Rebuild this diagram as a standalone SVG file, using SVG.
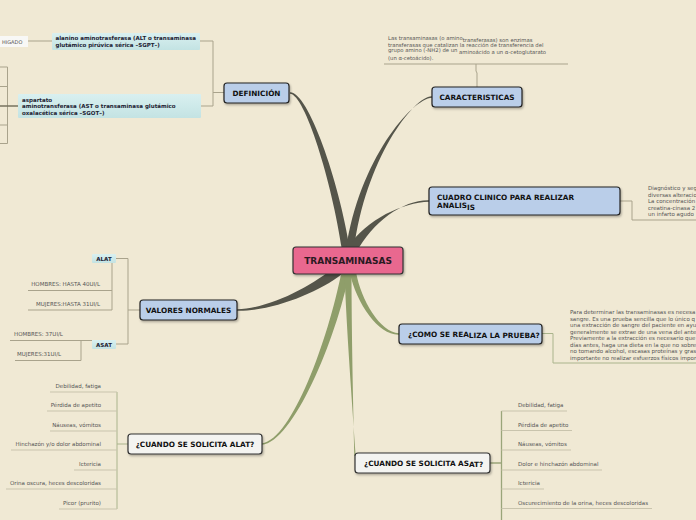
<svg xmlns="http://www.w3.org/2000/svg" width="696" height="520" viewBox="0 0 696 520">
<defs>
<filter id="sh" x="-10%" y="-20%" width="130%" height="160%"><feDropShadow dx="1" dy="1.5" stdDeviation="0.8" flood-color="#000" flood-opacity="0.3"/></filter>
<linearGradient id="teal" x1="0" y1="0" x2="0" y2="1"><stop offset="0" stop-color="#d9f0f0"/><stop offset="1" stop-color="#c3e3e3"/></linearGradient>
</defs>
<style>
.bg{fill:#f0e9d4}
.main{fill:#e9678f;stroke:#333;stroke-width:1.2}
.blue{fill:#bacee9;stroke:#222;stroke-width:1.2}
.white{fill:#f4f4f1;stroke:#333;stroke-width:1.2}
.teal{fill:url(#teal)}
.nt{font-family:"DejaVu Sans",Verdana,sans-serif;font-weight:bold;fill:#111;font-size:7.3px}
.st{font-family:"DejaVu Sans",Verdana,sans-serif;font-weight:bold;fill:#223;font-size:5.5px}
.sm{font-family:"DejaVu Sans",Verdana,sans-serif;fill:#555;font-size:5.5px}
.dk{fill:#55554a}
.ol{fill:#8f9e6a}
.ln{fill:none;stroke:#a9a38c;stroke-width:1}
.lo{fill:none;stroke:#aab48c;stroke-width:1}
.lu{fill:none;stroke:#c9c4ad;stroke-width:1}
</style>
<rect class="bg" x="0" y="0" width="696" height="520"/>
<g id="connectors">
<path class="dk" d="M290,92.2 C308,91.5 339,180 350,250 L342,250 C332,182 305,94.5 290,93.8 Z"/>
<path class="dk" d="M432,96.2 C414,95.5 365,160 354,250 L346,250 C359,160 412,98.5 432,97.8 Z"/>
<path class="dk" d="M429,200.2 C404,199.5 373,221 356,253 L348,247 C367,219 403,202.5 429,201.8 Z"/>
<path class="dk" d="M237,309.2 C270,308.5 312,286 336,266 L342,274 C318,293 271,311.5 237,310.8 Z"/>
<path class="ol" d="M399,333.3 C380,332.5 361,300 356,272 L349.5,272 C357,305 379,335.5 399,334.7 Z"/>
<path class="ol" d="M262,443.3 C292,439.5 328,340 341.5,272 L349.5,272 C336,340 293,442.5 262,444.7 Z"/>
<path class="ol" d="M354.3,456 C353,400 351.5,330 351.5,272 L344.5,272 C346.5,330 352,400 355.7,456 Z"/>
<path class="ln" d="M224,92.5 H213 M200,41 H213 V106 H201 M28,41 H52"/>
<path class="ln" d="M0,67 H7.5 M0,86.5 H7.5 M0,125 H7.5 M0,143.5 H7.5 M7.5,67 V143.5"/>
<path fill="none" stroke="#77725f" stroke-width="1.5" d="M0,106 H18"/>
<path class="ln" d="M477,87 V73 L476,71 V64 M384,64 H568"/>
<path class="ln" d="M620,201 H632 V220 H696"/>
<path class="lo" d="M542,333.5 H553 V363 H696"/>
<path class="ln" d="M140,310 H128 M116,258.5 H128 V344 H116 M112,263 V310 M28,290.5 H112 M28,310 H112 M10,340.5 H92 M81,340.5 V360.5 H15"/>
<path class="lo" d="M128,444 H117 M117,392 V509"/>
<path class="lu" d="M50,392 H117 M47,411 H117 M50,431 H117 M11,450 H117 M74,470 H117 M6,489 H117 M59,509 H117"/>
<path fill="none" stroke="#9aa57a" stroke-width="1.3" d="M490,463 H501.5 M501.5,411 V520"/>
<path class="lu" d="M501.5,411 H567 M501.5,430.5 H572 M501.5,450 H571 M501.5,470 H602 M501.5,489 H544 M501.5,508.5 H652"/>
</g>
<g id="n-transaminasas"><rect class="main" filter="url(#sh)" x="293" y="247" width="110" height="27" rx="3"/><text class="nt" style="font-size:9px;fill:#2a1a22" x="348" y="264" text-anchor="middle">TRANSAMINASAS</text></g>
<g id="n-definicion"><rect class="blue" filter="url(#sh)" x="224" y="83" width="65" height="20" rx="3"/><text class="nt" x="256.5" y="95.5" text-anchor="middle">DEFINICIÓN</text></g>
<g id="n-alt"><rect class="teal" x="52" y="33" width="148" height="17" rx="1"/><text class="st" x="55.5" y="40">alanino aminotrasferasa (ALT o transaminasa</text><text class="st" x="55.5" y="47">glutámico pirúvica sérica –SGPT–)</text></g>
<g id="n-higado"><rect fill="#f8f8f6" x="0" y="36" width="28" height="11"/><text class="sm" style="font-size:5px" x="2" y="43.5">HIGADO</text></g>
<g id="n-ast"><rect class="teal" x="18" y="94" width="183" height="24" rx="1"/><text class="st" x="22" y="102">aspartato</text><text class="st" x="22" y="108">aminotransferasa (AST o transaminasa glutámico</text><text class="st" x="22" y="115">oxalacética sérica –SGOT–)</text></g>
<g id="n-caracteristicas"><rect class="blue" filter="url(#sh)" x="432" y="87" width="90" height="20" rx="3"/><text class="nt" x="477" y="100" text-anchor="middle">CARACTERISTICAS</text></g>
<g id="t-caracteristicas"><text class="sm" style="font-size:5.3px" x="388" y="40">Las transaminasas (o amino<tspan dy="1.5">transferasas) son enzimas</tspan></text><text class="sm" style="font-size:5.3px" x="388" y="46.5">transferasas que catalizan la reacción de transferencia del</text><text class="sm" style="font-size:5.3px" x="388" y="52">grupo amino (-NH2) de un <tspan dy="1.5">aminoácido a un α-cetoglutarato</tspan></text><text class="sm" style="font-size:5.3px" x="388" y="60">(un α-cetoácido).</text></g>
<g id="n-cuadro"><rect class="blue" filter="url(#sh)" x="429" y="187" width="191" height="28" rx="3"/><text class="nt" x="437" y="200">CUADRO CLINICO PARA REALIZAR</text><text class="nt" x="437" y="208">ANALIS<tspan dy="1.5">IS</tspan></text></g>
<g id="t-cuadro"><text class="sm" x="648" y="190">Diagnóstico y seg</text><text class="sm" x="648" y="196.5">diversas alteracio</text><text class="sm" x="648" y="203">La concentración</text><text class="sm" x="648" y="209.5">creatina-cinasa 2</text><text class="sm" x="648" y="216">un infarto agudo</text></g>
<g id="n-valores"><rect class="blue" filter="url(#sh)" x="140" y="300" width="97" height="20" rx="3"/><text class="nt" x="188.5" y="313" text-anchor="middle">VALORES NORMALES</text></g>
<g id="n-alat"><rect class="teal" x="92" y="254" width="24" height="9" rx="1"/><text class="st" x="104" y="260.5" text-anchor="middle">ALAT</text></g>
<g id="n-asat"><rect class="teal" x="92" y="340" width="24" height="9" rx="1"/><text class="st" x="104" y="346.5" text-anchor="middle">ASAT</text></g>
<g id="t-valores"><text class="sm" x="100" y="285.5" text-anchor="end">HOMBRES: HASTA 40UI/L</text><text class="sm" x="100" y="305.5" text-anchor="end">MUJERES:HASTA 31UI/L</text><text class="sm" x="14" y="335.5">HOMBRES: 37UI/L</text><text class="sm" x="17" y="355.5">MUJERES:31UI/L</text></g>
<g id="n-como"><rect class="blue" filter="url(#sh)" x="399" y="324" width="143" height="20" rx="3"/><text class="nt" x="408" y="336.5">¿COMO SE REA<tspan dy="1">LIZA LA PRUEBA?</tspan></text></g>
<g id="t-como"><text class="sm" x="570" y="314">Para determinar las transaminasas es necesa</text><text class="sm" x="570" y="320.5">sangre. Es una prueba sencilla que lo único q</text><text class="sm" x="570" y="327">una extracción de sangre del paciente en ayu</text><text class="sm" x="570" y="333.5">generalmente se extrae de una vena del ante</text><text class="sm" x="570" y="340">Previamente a la extracción es necesario que</text><text class="sm" x="570" y="346.5">días antes, haga una dieta en la que no sobre</text><text class="sm" x="570" y="353">no tomando alcohol, escasas proteínas y gras</text><text class="sm" x="570" y="359.5">importante no realizar esfuerzos físicos impor</text></g>
<g id="n-cuando-alat"><rect class="white" filter="url(#sh)" x="128" y="434" width="134" height="20" rx="3"/><text class="nt" x="195" y="447" text-anchor="middle">¿CUANDO SE SOLICITA ALAT?</text></g>
<g id="t-alat"><text class="sm" x="101" y="388" text-anchor="end">Debilidad, fatiga</text><text class="sm" x="101" y="407" text-anchor="end">Pérdida de apetito</text><text class="sm" x="101" y="427" text-anchor="end">Náuseas, vómitos</text><text class="sm" x="101" y="446" text-anchor="end">Hinchazón y/o dolor abdominal</text><text class="sm" x="101" y="466" text-anchor="end">Ictericia</text><text class="sm" x="101" y="485" text-anchor="end">Orina oscura, heces descoloridas</text><text class="sm" x="101" y="505" text-anchor="end">Picor (prurito)</text></g>
<g id="n-cuando-asat"><rect class="white" filter="url(#sh)" x="355" y="453" width="135" height="20" rx="3"/><text class="nt" x="364" y="465.5">¿CUANDO SE SOLICITA AS<tspan dy="1">AT?</tspan></text></g>
<g id="t-asat"><text class="sm" x="518" y="407">Debilidad, fatiga</text><text class="sm" x="518" y="426.5">Pérdida de apetito</text><text class="sm" x="518" y="446">Náuseas, vómitos</text><text class="sm" x="518" y="466">Dolor e hinchazón abdominal</text><text class="sm" x="518" y="485">Ictericia</text><text class="sm" x="518" y="505">Oscurecimiento de la orina, heces descoloridas</text></g>
</svg>
